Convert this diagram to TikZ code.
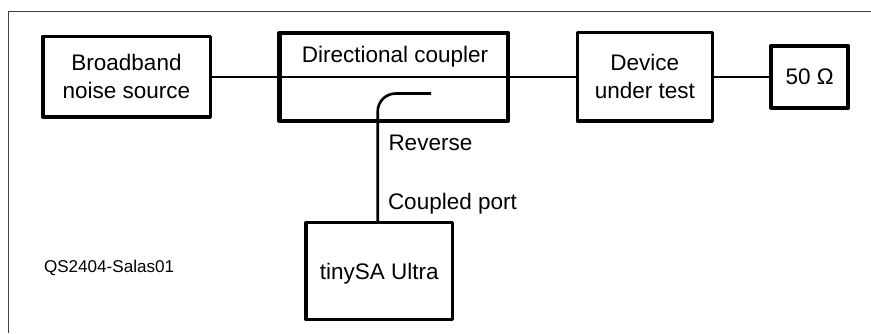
\documentclass[tikz,border=0pt]{standalone}
\usepackage{fontspec}
\setmainfont{Liberation Sans}
\begin{document}
\begin{tikzpicture}[x=1pt,y=-1pt,
  block/.style={draw=black,line width=3.6pt,line join=round,fill=white,inner sep=0pt,outer sep=0pt,align=center,
    font=\fontsize{22.5}{28}\selectfont},
  lead/.style={draw=black,line width=2.6pt},
  caption/.style={inner sep=0pt,outer sep=0pt,anchor=base west,font=\fontsize{22.5}{28}\selectfont}]
\useasboundingbox (0,0) rectangle (871,333);
\draw[draw=black!75,line width=1pt] (871,11.5) -- (8,11.5) -- (8,333);
\node[block,minimum width=167.6pt,minimum height=80.5pt] (noise) at (126.5,76.8) {Broadband\\noise source};
\node[block,line width=4.2pt,minimum width=228.5pt,minimum height=88pt] (coupler) at (393.75,76.8) {};
\node[inner sep=0pt,anchor=base,font=\fontsize{22.5}{28}\selectfont] (title) at (395,62) {Directional coupler};
\node[block,minimum width=135pt,minimum height=88.6pt] (dut) at (644.8,76.8) {Device\\under test};
\node[block,minimum width=77.3pt,minimum height=62pt] (load) at (809.6,76.8) {50 Ω};
\node[block,minimum width=146.5pt,minimum height=97pt,text depth=0pt] (sa) at (379.2,271) {tinySA Ultra};
\coordinate (port) at (431,93.5);
\coordinate (bend) at (377.7,93.5);
\draw[lead] (noise.east) -- (coupler.west) -- (coupler.east) -- (dut.west);
\draw[lead] (dut.east) -- (load.west);
\draw[lead,rounded corners=18pt] (port) -- (bend) -- (bend |- sa.north);
\node[caption] (rev) at (388.5,150) {Reverse};
\node[caption] (cpl) at (388,209) {Coupled port};
\node[caption,font=\fontsize{17.1}{20}\selectfont] (tag) at (44,272.8) {QS2404-Salas01};
\end{tikzpicture}
\end{document}
